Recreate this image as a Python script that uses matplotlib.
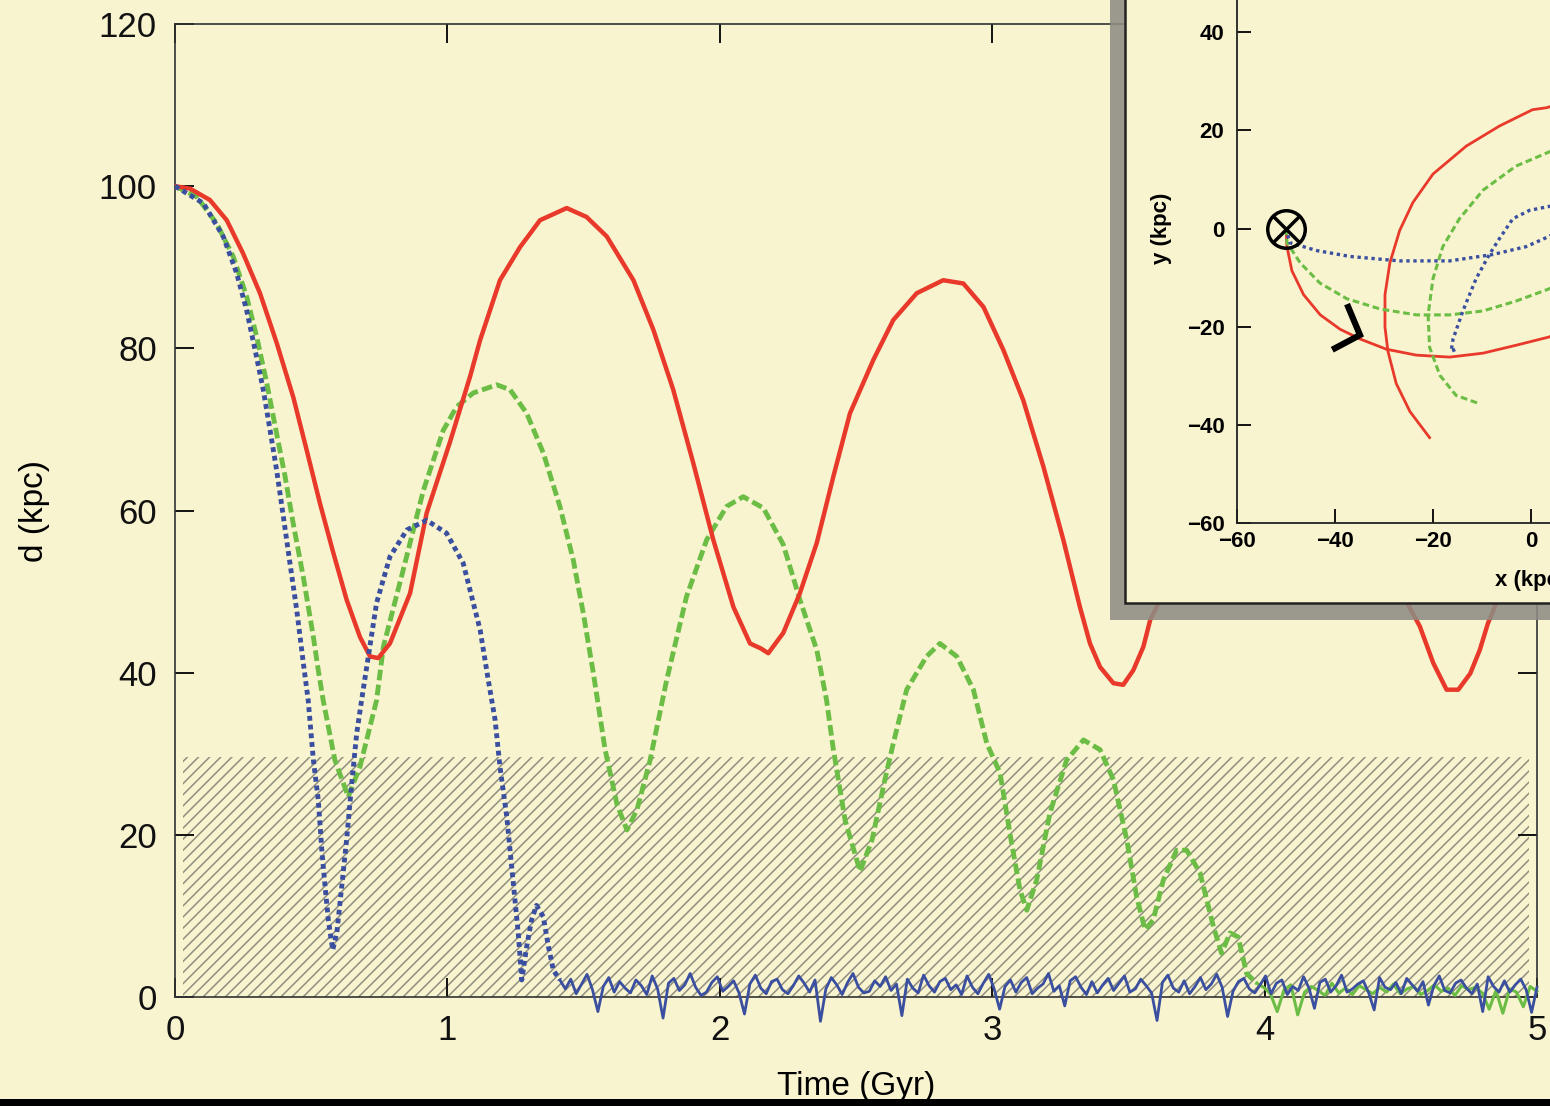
import numpy as np
import matplotlib
matplotlib.use("Agg")
import matplotlib.pyplot as plt
from matplotlib.patches import Rectangle

plt.rcParams["font.family"] = ["Liberation Sans", "DejaVu Sans"]
plt.rcParams["hatch.linewidth"] = 1.1

BG = "#f8f4cf"
RED = "#e8392b"
GREEN = "#6cbd45"
BLUE = "#3b4fa0"

# ---- main panel: distance vs time ----
red_t = [0.0, 0.055, 0.128, 0.19, 0.25, 0.312, 0.373, 0.434, 0.483, 0.532, 0.581, 0.63,
         0.679, 0.716, 0.746, 0.789, 0.826, 0.863, 0.924, 1.01, 1.083, 1.12, 1.193, 1.267,
         1.34, 1.438, 1.511, 1.585, 1.683, 1.756, 1.829, 1.903, 1.976, 2.05, 2.111, 2.15,
         2.178, 2.233, 2.294, 2.356, 2.417, 2.478, 2.564, 2.637, 2.723, 2.82, 2.894, 2.968,
         3.041, 3.114, 3.188, 3.261, 3.322, 3.359, 3.396, 3.445, 3.481, 3.518, 3.555, 3.58,
         3.604, 3.7, 3.8, 3.9, 4.0, 4.07, 4.15, 4.25, 4.35, 4.45, 4.528, 4.57, 4.619, 4.668,
         4.711, 4.755, 4.79, 4.82, 4.845, 4.9, 4.96, 5.0]
red_d = [100.0, 99.7, 98.3, 95.8, 91.7, 86.8, 80.7, 74.0, 67.5, 60.9, 54.8, 49.0,
         44.4, 42.0, 41.8, 43.6, 46.7, 49.8, 59.7, 68.5, 76.5, 81.0, 88.4, 92.5,
         95.8, 97.3, 96.2, 93.8, 88.4, 82.3, 74.9, 65.8, 56.4, 48.1, 43.6, 43.0,
         42.4, 44.9, 49.8, 56.0, 64.2, 72.0, 78.6, 83.5, 86.8, 88.4, 88.0, 85.1,
         79.8, 73.6, 65.4, 56.4, 48.1, 43.6, 40.7, 38.7, 38.5, 40.3, 43.2, 46.5,
         48.1, 58.0, 67.0, 74.0, 78.0, 79.0, 77.0, 71.0, 63.0, 55.0, 48.3, 45.7, 41.2, 37.9,
         37.9, 39.9, 42.8, 46.1, 48.1, 55.0, 62.0, 66.0]

green_t = [0.0, 0.08, 0.153, 0.214, 0.263, 0.3, 0.337, 0.373, 0.404, 0.434, 0.471, 0.508,
           0.526, 0.544, 0.587, 0.636, 0.679, 0.74, 0.765, 0.838, 0.912, 0.985, 1.034, 1.095,
           1.181, 1.23, 1.291, 1.352, 1.413, 1.462, 1.499, 1.536, 1.579, 1.623, 1.659, 1.696,
           1.744, 1.805, 1.878, 1.952, 2.025, 2.086, 2.16, 2.233, 2.294, 2.356, 2.392, 2.417,
           2.46, 2.515, 2.559, 2.606, 2.637, 2.686, 2.759, 2.808, 2.87, 2.931, 2.98, 3.029,
           3.065, 3.102, 3.127, 3.163, 3.212, 3.273, 3.335, 3.396, 3.445, 3.494, 3.53, 3.561,
           3.591, 3.628, 3.677, 3.714, 3.763, 3.812, 3.842, 3.873, 3.903, 3.934, 3.971]
green_d = [100.0, 98.7, 95.4, 91.3, 86.4, 81.4, 75.7, 69.5, 64.2, 58.4, 51.8, 44.4,
           40.3, 36.6, 29.2, 24.7, 28.4, 36.6, 43.2, 52.7, 62.5, 69.9, 72.8, 74.5,
           75.5, 74.9, 72.0, 67.1, 60.5, 53.9, 47.3, 39.9, 30.5, 23.7, 20.6, 23.1,
           29.2, 39.1, 49.4, 56.4, 60.5, 61.7, 60.3, 55.8, 49.0, 42.8, 36.6, 30.5,
           21.8, 15.5, 19.4, 26.8, 31.3, 37.9, 42.0, 43.6, 42.0, 37.9, 31.3, 27.6,
           20.2, 13.2, 10.7, 14.4, 22.7, 29.2, 31.7, 30.5, 26.8, 19.4, 12.4, 8.3,
           9.5, 14.4, 18.1, 18.1, 15.3, 8.7, 5.4, 7.9, 7.4, 2.9, 1.7]
green_tail = [1.2, 0.4, -1.8, 0.9, 1.5, -2.2, 0.6, 1.3, 0.8, 0.2, 1.7, 0.5, 1.1, 0.3,
              1.4, 0.9, 0.4, 1.2, 0.6, 1.6, 0.4, 1.0, 1.3, 0.3, 0.8, 1.5, 0.7, 1.1,
              0.2, 1.4, 0.9, 1.2, 0.5, -1.5, 0.8, -2.0, 1.0, 0.6, -1.2, 1.3, 0.7]

blue_t = [0.0, 0.104, 0.177, 0.226, 0.263, 0.294, 0.324, 0.349, 0.373, 0.398, 0.422, 0.447,
          0.471, 0.489, 0.508, 0.526, 0.539, 0.551, 0.563, 0.579, 0.594, 0.612, 0.63, 0.649,
          0.667, 0.685, 0.74, 0.789, 0.851, 0.924, 0.997, 1.058, 1.12, 1.15, 1.175, 1.193,
          1.218, 1.242, 1.26, 1.273, 1.291, 1.309, 1.327, 1.352, 1.371, 1.389, 1.413]
blue_d = [100.0, 97.9, 93.8, 89.3, 84.7, 79.8, 74.9, 69.9, 65.0, 59.2, 53.5, 47.7,
          41.2, 36.6, 29.2, 24.3, 18.1, 13.6, 9.5, 5.8, 7.9, 13.6, 19.4, 26.4,
          32.5, 36.6, 48.6, 54.3, 57.6, 58.8, 57.2, 53.5, 45.3, 39.1, 34.2, 28.4,
          22.2, 14.0, 7.9, 2.1, 6.2, 9.5, 11.3, 9.9, 6.2, 3.3, 2.1]
blue_tail = [1.0, 2.2, 0.4, 1.6, 2.8, 0.9, -1.8, 1.3, 2.4, 0.6, 1.9, 1.1, 0.5, 2.1, 1.4, 0.3, 2.6, 1.0, -2.6, 1.7,
             2.3, 0.8, 1.5, 2.9, 1.2, 0.2, 0.6, 1.8, 2.5, 0.7, 1.3, 2.0, 0.5, -2.1, 1.6, 2.7, 1.1, 0.4, 1.9, 2.2,
             0.9, 0.4, 1.4, 2.6, 1.7, 0.6, 2.1, -3.0, 1.0, 2.4, 1.5, 0.3, 1.8, 2.9, 1.2, 0.5, 0.7, 2.0, 1.3, 2.5,
             0.8, 1.6, -2.3, 2.2, 1.1, 0.5, 2.7, 1.4, 0.6, 1.9, 2.3, 0.9, 1.5, 0.3, 2.6, 1.2, 0.4, 1.7, 2.8, 1.0,
             -1.5, 1.3, 2.1, 0.6, 1.8, 2.4, 0.4, 1.1, 1.6, 2.9, 0.7, 1.4, -1.1, 2.0, 2.5, 1.2, 0.3, 1.9, 0.5, 1.5,
             2.3, 0.8, 1.7, 2.6, 0.6, 1.0, 2.2, 1.4, 0.5, -2.9, 1.8, 2.7, 1.1, 0.6, 2.0, 0.4, 1.3, 2.4, 0.9, 1.6,
             2.8, 1.2, -2.4, 0.7, 1.9, 2.3, 1.0, 0.5, 1.5, 2.6, 0.4, 1.7, 2.1, 0.3, 1.3, 0.8, 2.5, 1.1, -1.4, 1.8,
             2.2, 0.6, 1.4, 2.7, 0.6, 1.0, 1.6, 2.0, 0.5, -1.6, 2.4, 1.2, 0.9, 1.8, 0.4, 2.3, 1.5, 0.7, 1.9, -1.0,
             1.4, 2.6, 0.8, 0.5, 1.7, 2.1, 1.1, 0.4, 1.6, -1.8, 2.5, 1.3, 0.6, 2.0, 0.6, 1.5, 2.2, 0.9, -1.9, 1.2]

band_t = [0.03, 4.97]
band_d = 29.6

x_ticks = [0, 1, 2, 3, 4, 5]
y_ticks = [0, 20, 40, 60, 80, 100, 120]

# ---- inset: orbits in the x-y plane ----
red_x1 = [-50.0, -49.8, -48.8, -46.4, -43.0, -39.0, -34.9, -29.5, -23.4, -16.6, -9.8, -3.1, 3.7, 12.0, 20.0]
red_y1 = [0.0, -3.7, -8.6, -13.5, -17.6, -20.5, -22.5, -24.6, -25.8, -26.2, -25.4, -23.8, -22.1, -18.0, -11.0]
red_x2 = [12.0, 3.1, 0.3, -6.4, -13.2, -20.0, -24.1, -26.8, -28.8, -29.8, -29.8, -29.2, -27.5, -24.7, -20.7]
red_y2 = [27.0, 24.6, 24.2, 20.9, 16.8, 11.1, 5.3, -0.4, -7.0, -13.5, -20.1, -25.0, -31.6, -37.3, -42.6]
green_x1 = [-50.0, -49.8, -47.1, -43.1, -37.6, -30.8, -23.4, -16.6, -9.8, -3.1, 3.7, 10.0]
green_y1 = [0.0, -2.9, -7.0, -11.1, -14.3, -16.4, -17.6, -17.6, -16.8, -14.8, -12.3, -9.0]
green_x2 = [10.0, 3.7, -3.1, -9.8, -14.6, -18.0, -20.0, -21.0, -20.7, -18.6, -15.3, -10.5]
green_y2 = [18.0, 15.6, 12.7, 7.8, 2.0, -3.7, -10.2, -17.6, -24.2, -29.9, -34.0, -35.7]
blue_x1 = [-50.0, -49.2, -43.7, -36.9, -26.8, -16.6, -7.8, -1.0, 3.7, 8.0]
blue_y1 = [0.0, -2.9, -4.5, -5.7, -6.6, -6.6, -5.3, -3.7, -1.6, 1.0]
blue_x2 = [8.0, 3.7, -0.3, -3.7, -6.4, -8.5, -11.2, -13.9, -15.9, -16.3, -15.3]
blue_y2 = [5.0, 4.5, 3.7, 2.0, -2.0, -5.3, -10.2, -16.8, -22.5, -25.0, -24.6]
arrow_x = [-37.3, -34.9, -40.0]
arrow_y = [-16.0, -21.7, -24.4]
start_xy = (-50.0, 0.0)
inset_ticks = [-60, -40, -20, 0, 20, 40, 60]


def main():
    fig = plt.figure(figsize=(15.5, 11.06), dpi=100)
    fig.patch.set_facecolor(BG)

    ax = fig.add_axes([175 / 1550, 109 / 1106, 1362 / 1550, 973 / 1106])
    ax.set_facecolor(BG)

    ax.add_patch(Rectangle((band_t[0], 0), band_t[1] - band_t[0], band_d,
                           facecolor="none", edgecolor="#908e7e", hatch="///",
                           linewidth=0, zorder=1))

    t_blue_tail = np.linspace(blue_t[-1], 5.0, len(blue_tail) + 1)[1:]
    t_green_tail = np.linspace(green_t[-1], 5.0, len(green_tail) + 1)[1:]

    ax.plot(green_t, green_d, color=GREEN, lw=3.5, ls=(0, (2.2, 0.9)), zorder=3)
    ax.plot([green_t[-1]] + list(t_green_tail), [green_d[-1]] + green_tail,
            color=GREEN, lw=2.2, zorder=3, clip_on=False)
    ax.plot(red_t, red_d, color=RED, lw=3.2, zorder=4)
    ax.plot(blue_t, blue_d, color=BLUE, lw=3.5, ls=(0, (1, 0.8)), zorder=5)
    ax.plot([blue_t[-1]] + list(t_blue_tail), [blue_d[-1]] + blue_tail,
            color=BLUE, lw=2.0, zorder=5, clip_on=False)

    ax.set_xlim(0, 5)
    ax.set_ylim(0, 120)
    ax.set_xticks(x_ticks)
    ax.set_yticks(y_ticks)
    ax.tick_params(direction="in", length=14, width=1.4, top=True, right=True,
                   labelsize=25, colors="#111111")
    ax.tick_params(axis="y", pad=13)
    ax.tick_params(axis="x", pad=12)
    for s in ax.spines.values():
        s.set_linewidth(1.2)
        s.set_color("#333333")

    ax.set_xlabel("Time (Gyr)", fontsize=24)
    ax.set_ylabel("d (kpc)", fontsize=24)
    ax.xaxis.set_label_coords(0.5, -0.076)
    ax.yaxis.set_label_coords(-0.092, 0.5)

    # inset box with drop shadow
    fig.add_artist(Rectangle((1110 / 1550, (1106 - 620) / 1106), 0.4, 0.7,
                             transform=fig.transFigure, facecolor="#8e8c84",
                             edgecolor="none", alpha=0.88, zorder=2))
    fig.add_artist(Rectangle((1125 / 1550, (1106 - 603) / 1106), 0.4, 0.7,
                             transform=fig.transFigure, facecolor=BG,
                             edgecolor="#222222", linewidth=1.8, zorder=2.5))

    ins = fig.add_axes([1237 / 1550, (1106 - 523) / 1106, 588 / 1550, 589 / 1106])
    ins.set_zorder(3)
    ins.set_facecolor("none")
    ins.plot(red_x1, red_y1, color=RED, lw=2.0)
    ins.plot(red_x2, red_y2, color=RED, lw=2.0)
    ins.plot(green_x1, green_y1, color=GREEN, lw=2.2, ls=(0, (2.2, 1.2)))
    ins.plot(green_x2, green_y2, color=GREEN, lw=2.2, ls=(0, (2.2, 1.2)))
    ins.plot(blue_x1, blue_y1, color=BLUE, lw=2.4, ls=(0, (1, 1.1)))
    ins.plot(blue_x2, blue_y2, color=BLUE, lw=2.4, ls=(0, (1, 1.1)))
    ins.plot(arrow_x, arrow_y, color="black", lw=4.5, solid_joinstyle="miter")
    ins.plot(*start_xy, marker="o", ms=27, mfc="none", mec="black", mew=2.5)
    ins.plot(*start_xy, marker="x", ms=19, mec="black", mew=2.5)

    ins.set_xlim(-60, 60)
    ins.set_ylim(-60, 60)
    ins.set_xticks(inset_ticks)
    ins.set_yticks(inset_ticks)
    ins.tick_params(direction="in", length=10, width=1.3, labelsize=16)
    ins.tick_params(axis="y", pad=9)
    ins.tick_params(axis="x", pad=6)
    for lab in ins.get_xticklabels() + ins.get_yticklabels():
        lab.set_fontweight("bold")
    for s in ins.spines.values():
        s.set_linewidth(1.3)
        s.set_color("#222222")
    ins.set_xlabel("x (kpc)", fontsize=16, fontweight="bold")
    ins.set_ylabel("y (kpc)", fontsize=16, fontweight="bold")
    ins.xaxis.set_label_coords(0.5, -0.08)
    ins.yaxis.set_label_coords(-0.11, 0.5)

    # black strip along the bottom edge
    fig.add_artist(Rectangle((0, 0), 1, 7 / 1106, transform=fig.transFigure,
                             facecolor="black", edgecolor="none", zorder=10))

    fig.savefig("out.png", dpi=100, facecolor=BG)
    plt.close(fig)


if __name__ == "__main__":
    main()
